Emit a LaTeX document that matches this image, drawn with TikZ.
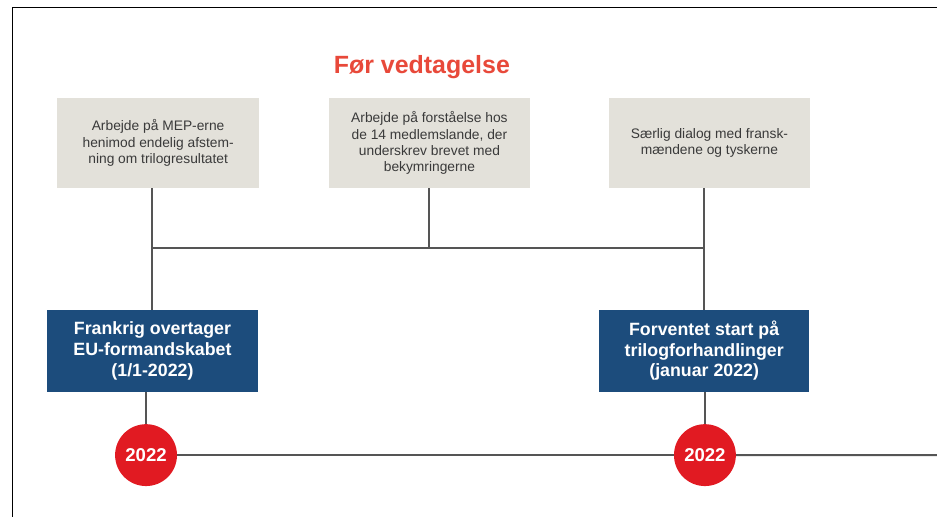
\documentclass[tikz,border=0pt]{standalone}
\usepackage{fontspec}
\setmainfont{Liberation Sans}
\usepackage{tikz}
\definecolor{titlered}{HTML}{E8493A}
\definecolor{dotred}{HTML}{E11A22}
\definecolor{navy}{HTML}{1C4C7C}
\definecolor{stone}{HTML}{E3E1DA}
\definecolor{inkgray}{HTML}{3A3A3A}
\definecolor{linegray}{HTML}{555555}
\tikzstyle{heading} = [text=titlered, font=\fontsize{18.8}{22}\selectfont\bfseries]
\tikzstyle{task} = [rectangle, minimum width=5.35cm, minimum height=2.38cm, align=center, fill=stone, text=inkgray, font=\fontsize{10.4}{12.3}\selectfont]
\tikzstyle{milestone} = [rectangle, minimum width=5.58cm, minimum height=2.17cm, align=center, fill=navy, text=white, font=\fontsize{13.4}{15.5}\selectfont\bfseries]
\tikzstyle{yeardot} = [circle, minimum size=1.64cm, inner sep=0pt, fill=dotred, text=white, font=\fontsize{14}{16}\selectfont\bfseries]
\tikzstyle{link} = [line width=1.5pt, draw=linegray]

\begin{document}
\begin{tikzpicture}[node distance=2cm]
    \useasboundingbox (0,0) rectangle (24.83,-13.70);
    \draw [line width=0.9pt] (0.33,-13.70) -- (0.33,-0.20) -- (24.83,-0.20);

    % Nodes
    \node (title) [heading] at (11.18,-1.78) {Før vedtagelse};
    \node (meps) [task] at (4.19,-3.79) {Arbejde på MEP-erne\\henimod endelig afstem-\\ning om trilogresultatet};
    \node (states) [task, right of=meps, xshift=5.19cm] {Arbejde på forståelse hos\\de 14 medlemslande, der\\underskrev brevet med\\bekymringerne};
    \node (dialog) [task, right of=states, xshift=5.42cm] {Særlig dialog med fransk-\\mændene og tyskerne};
    \node (presidency) [milestone, below of=meps, xshift=-0.15cm, yshift=-3.51cm] {Frankrig overtager\\EU-formandskabet\\(1/1-2022)};
    \node (trilogue) [milestone, below of=dialog, xshift=-0.14cm, yshift=-3.51cm] {Forventet start på\\trilogforhandlinger\\(januar 2022)};
    \node (year1) [yeardot, below of=presidency, xshift=-0.17cm, yshift=-0.76cm] {2022};
    \node (year2) [yeardot, below of=trilogue, xshift=0.02cm, yshift=-0.76cm] {2022};
    \coordinate (join) at ([yshift=-1.59cm]states.south);
    \coordinate (lineend) at (24.83,-12.06);

    % Lines
    \draw [link] (presidency.north |- meps.south) -- (presidency.north);
    \draw [link] (trilogue.north |- dialog.south) -- (trilogue.north);
    \draw [link] (states.south) -- (join);
    \draw [link] (join -| presidency.north) -- (join -| trilogue.north);
    \draw [link] (year1.north |- presidency.south) -- (year1.north);
    \draw [link] (year2.north |- trilogue.south) -- (year2.north);
    \draw [link] (year1.east) -- (year2.west);
    \draw [link] (year2.east) -- (lineend);

\end{tikzpicture}
\end{document}
